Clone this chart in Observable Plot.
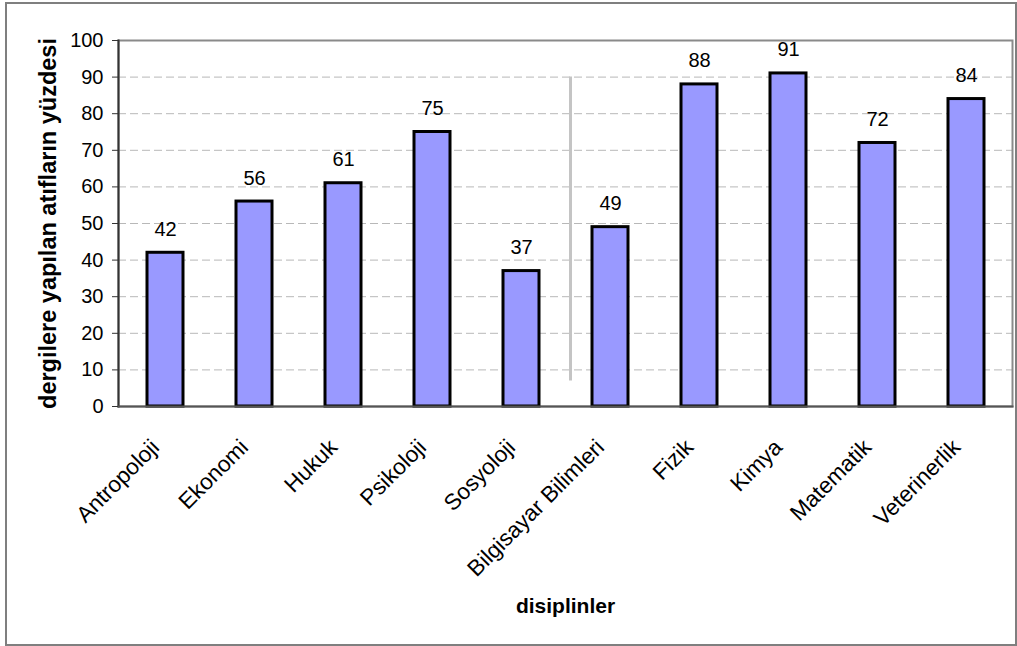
<!DOCTYPE html>
<html>
<head>
<meta charset="utf-8">
<script src="https://cdn.jsdelivr.net/npm/d3@7"></script>
<script src="https://cdn.jsdelivr.net/npm/@observablehq/plot@0.6"></script>
<style>
  html, body { margin: 0; padding: 0; background: #fff; }
  #wrap { position: relative; width: 1017px; height: 646px; overflow: hidden; }
  #border { position: absolute; left: 5px; top: 2px; width: 1012px; height: 644px; box-sizing: border-box; border: 2px solid #7f7f7f; }
  #chart { position: absolute; left: 0; top: 0; }
</style>
</head>
<body>
<div id="wrap"><div id="border"></div><div id="chart"></div></div>
<script>
const categories = ["Antropoloji", "Ekonomi", "Hukuk", "Psikoloji", "Sosyoloji", "Bilgisayar Bilimleri", "Fizik", "Kimya", "Matematik", "Veterinerlik"];
const values = [42, 56, 61, 75, 37, 49, 88, 91, 72, 84];
const yTicks = [0, 10, 20, 30, 40, 50, 60, 70, 80, 90, 100];
const gridTicks = [10, 20, 30, 40, 50, 60, 70, 80, 90];
const yLabel = "dergilere yapılan atıfların yüzdesi";
const xLabel = "disiplinler";
const dividerBefore = "Bilgisayar Bilimleri";

const data = categories.map((c, i) => ({category: c, value: values[i]}));

const chart = Plot.plot({
  width: 1017,
  height: 646,
  marginLeft: 118,
  marginRight: 5,
  marginTop: 40,
  marginBottom: 240,
  style: {fontFamily: "'Liberation Sans', Arial, sans-serif", background: "transparent", color: "#000"},
  x: {domain: categories, paddingInner: 0.6, paddingOuter: 0.3, axis: null},
  y: {domain: [0, 100], axis: null},
  marks: [
    Plot.gridY(gridTicks, {stroke: "#b8b8b8", strokeOpacity: 1, strokeWidth: 1, strokeDasharray: "8,4"}),
    Plot.frame({stroke: "#8a8a8a", strokeWidth: 2}),
    Plot.ruleX([dividerBefore], {x: d => d, y1: 7, y2: 90, dx: -40, stroke: "#c4c4c4", strokeWidth: 3}),
    Plot.barY(data, {x: "category", y: "value", fill: "#9999ff", stroke: "#000", strokeWidth: 3}),
    Plot.frame({anchor: "left", stroke: "#333", strokeWidth: 2}),
    Plot.frame({anchor: "bottom", stroke: "#555", strokeWidth: 2}),
    Plot.axisY({ticks: yTicks, tickSize: 6, tickPadding: 9, fontSize: 20, tickFormat: d => String(d), stroke: "#333", label: null}),
    Plot.text(data, {x: "category", y: "value", text: d => String(d.value), lineAnchor: "bottom", dy: -17, fontSize: 20, fill: "#000"}),
    Plot.text(categories, {x: d => d, y: 0, text: d => d, rotate: -45, textAnchor: "end", lineAnchor: "middle", dx: -10, dy: 37, fontSize: 22.5, fill: "#000"}),
    Plot.text([yLabel], {frameAnchor: "left", text: d => d, rotate: -90, textAnchor: "middle", dx: -70, fontSize: 23.5, fontWeight: "bold", fill: "#000"}),
    Plot.text([xLabel], {frameAnchor: "bottom", text: d => d, textAnchor: "middle", lineAnchor: "bottom", dy: 206, fontSize: 21, fontWeight: "bold", fill: "#000"})
  ]
});
document.getElementById("chart").appendChild(chart);
</script>
</body>
</html>
